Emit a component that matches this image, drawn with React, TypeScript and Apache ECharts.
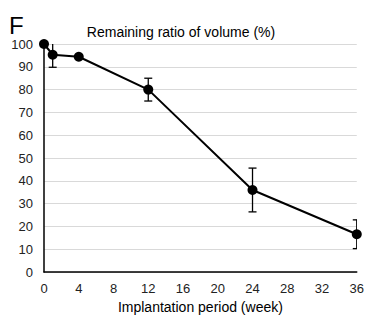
import React, { useEffect, useRef } from "react";
import * as echarts from "echarts";

const weeks = [0, 1, 4, 12, 24, 36];
const ratio = [100, 95.3, 94.4, 80, 36, 16.6];
const errs = [0, 5.5, 0, 5, 9.6, 6.3];

export default function App() {
  const ref = useRef<HTMLDivElement>(null);
  useEffect(() => {
    const chart = echarts.init(ref.current!, null, { renderer: "svg" });
    const font = "'Liberation Sans', Arial, sans-serif";
    chart.setOption({
      animation: false,
      textStyle: { fontFamily: font },
      title: [
        { text: "F", left: 4, top: 8, textStyle: { fontSize: 24, fontWeight: "normal", color: "#000", fontFamily: font } },
        {
          text: "Remaining ratio of volume (%)",
          left: 176,
          textAlign: "center",
          top: 20,
          textStyle: { fontSize: 14, fontWeight: "normal", color: "#000", fontFamily: font },
        },
      ],
      grid: { left: 44, right: 7, top: 44, bottom: 45 },
      xAxis: {
        type: "value",
        min: 0,
        max: 36,
        interval: 4,
        name: "Implantation period (week)",
        nameLocation: "middle",
        nameGap: 27,
        nameTextStyle: { fontSize: 14, color: "#000", fontFamily: font },
        axisLine: { lineStyle: { color: "#000", width: 1.5 } },
        axisTick: { show: false },
        axisLabel: { fontSize: 13, color: "#222", margin: 10, fontFamily: font },
        splitLine: { show: false },
      },
      yAxis: {
        type: "value",
        min: 0,
        max: 100,
        interval: 10,
        axisLine: { show: true, lineStyle: { color: "#000", width: 1.5 } },
        axisTick: { show: false },
        axisLabel: { fontSize: 13, color: "#222", margin: 11, fontFamily: font },
        splitLine: { lineStyle: { color: "#d9d9d9", width: 1 } },
      },
      series: [
        {
          type: "custom",
          clip: true,
          data: weeks.map((w, i) => [w, ratio[i], errs[i]]),
          z: 3,
          renderItem: (params: any, api: any) => {
            const x = api.value(0);
            const y = api.value(1);
            const e = api.value(2);
            if (!e) return { type: "group", children: [] };
            const top = api.coord([x, y + e]);
            const bot = api.coord([x, y - e]);
            const w = 4;
            const style = { stroke: "#000", lineWidth: 1.3 };
            return {
              type: "group",
              children: [
                { type: "line", shape: { x1: top[0], y1: top[1], x2: bot[0], y2: bot[1] }, style },
                { type: "line", shape: { x1: top[0] - w, y1: top[1], x2: top[0] + w, y2: top[1] }, style },
                { type: "line", shape: { x1: bot[0] - w, y1: bot[1], x2: bot[0] + w, y2: bot[1] }, style },
              ],
            };
          },
        },
        {
          type: "line",
          data: weeks.map((w, i) => [w, ratio[i]]),
          symbol: "circle",
          symbolSize: 10,
          lineStyle: { color: "#000", width: 2 },
          itemStyle: { color: "#000" },
          z: 4,
        },
      ],
    });
    return () => chart.dispose();
  }, []);
  return <div ref={ref} style={{ width: 367, height: 319, position: "absolute", left: 0, top: 0 }} />;
}
